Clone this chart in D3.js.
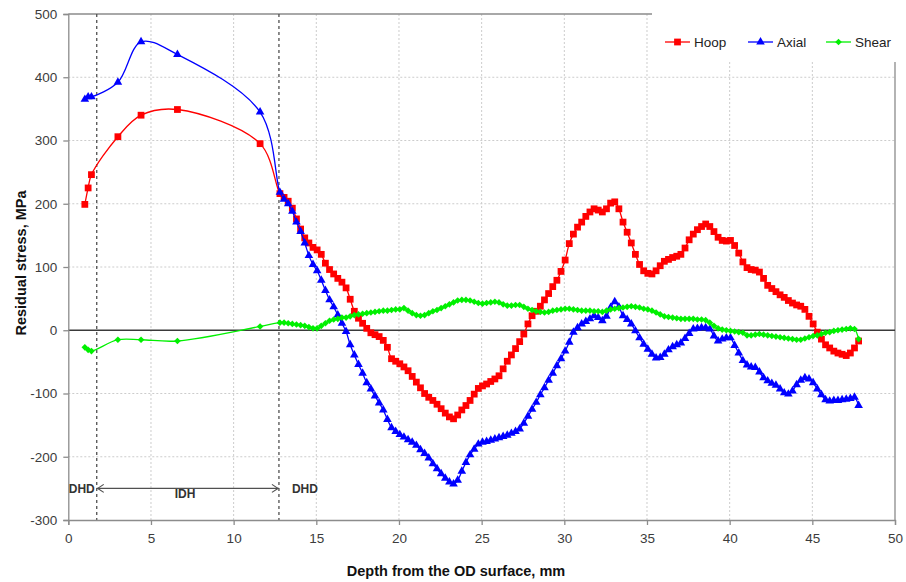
<!DOCTYPE html>
<html>
<head>
<meta charset="utf-8">
<script src="https://cdn.jsdelivr.net/npm/d3@7"></script>
<style>
  body { margin: 0; background: #fff; }
  text { font-family: Arial, "Liberation Sans", sans-serif; }
</style>
</head>
<body>
<svg width="906" height="582"></svg>
<script>
const width = 906;
const height = 582;

// near-surface points (smoothed part)
const nearDepth = [1.0, 1.2, 1.4, 3.0, 4.4, 6.6, 11.6];
const hoopNear = [199, 225, 246, 306, 340, 349, 295];
const axialNear = [365, 369, 369, 392, 456, 436, 345];
const shearNear = [-27, -31, -33, -15, -15, -17, 6];

// deep-hole scan points
const scanDepth = [
  12.8, 13.05, 13.3, 13.55, 13.8, 14.05, 14.3, 14.55, 14.8, 15.05,
  15.3, 15.55, 15.8, 16.05, 16.3, 16.55, 16.8, 17.05, 17.3, 17.55,
  17.8, 18.05, 18.3, 18.55, 18.8, 19.05, 19.3, 19.55, 19.8, 20.05,
  20.3, 20.55, 20.8, 21.05, 21.3, 21.55, 21.8, 22.05, 22.3, 22.55,
  22.8, 23.05, 23.3, 23.55, 23.8, 24.05, 24.3, 24.55, 24.8, 25.05,
  25.3, 25.55, 25.8, 26.05, 26.3, 26.55, 26.8, 27.05, 27.3, 27.55,
  27.8, 28.05, 28.3, 28.55, 28.8, 29.05, 29.3, 29.55, 29.8, 30.05,
  30.3, 30.55, 30.8, 31.05, 31.3, 31.55, 31.8, 32.05, 32.3, 32.55,
  32.8, 33.05, 33.3, 33.55, 33.8, 34.05, 34.3, 34.55, 34.8, 35.05,
  35.3, 35.55, 35.8, 36.05, 36.3, 36.55, 36.8, 37.05, 37.3, 37.55,
  37.8, 38.05, 38.3, 38.55, 38.8, 39.05, 39.3, 39.55, 39.8, 40.05,
  40.3, 40.55, 40.8, 41.05, 41.3, 41.55, 41.8, 42.05, 42.3, 42.55,
  42.8, 43.05, 43.3, 43.55, 43.8, 44.05, 44.3, 44.55, 44.8, 45.05,
  45.3, 45.55, 45.8, 46.05, 46.3, 46.55, 46.8, 47.05, 47.3, 47.55,
  47.8
];
const hoopScan = [
  216, 210, 204, 193, 176, 160, 146, 138, 131, 127,
  120, 106, 96, 89, 82, 76, 67, 49, 30, 19,
  11, 3, -4, -7, -10, -16, -27, -45, -49, -53,
  -58, -64, -73, -82, -91, -100, -106, -111, -117, -124,
  -131, -137, -140, -134, -126, -119, -111, -101, -92, -88,
  -85, -81, -77, -72, -61, -49, -39, -29, -18, -6,
  10, 23, 30, 38, 48, 58, 69, 79, 93, 111,
  137, 152, 163, 171, 180, 187, 192, 190, 187, 192,
  201, 203, 192, 171, 155, 138, 120, 104, 94, 90,
  89, 94, 102, 109, 112, 115, 117, 120, 130, 143,
  152, 159, 164, 168, 164, 156, 147, 142, 141, 142,
  134, 122, 108, 99, 96, 95, 92, 82, 71, 66,
  61, 56, 52, 47, 43, 40, 38, 33, 22, 10,
  -3, -14, -23, -28, -33, -36, -38, -40, -36, -28,
  -17
];
const axialScan = [
  218, 207, 200, 188, 171, 156, 138, 118, 104, 94,
  79, 63, 48, 37, 24, 11, -2, -23, -39, -54,
  -68, -83, -93, -104, -115, -126, -141, -154, -160, -165,
  -169, -173, -177, -182, -189, -195, -202, -211, -219, -227,
  -234, -240, -243, -237, -223, -209, -197, -188, -180, -177,
  -176, -174, -172, -170, -168, -166, -163, -160, -156, -147,
  -136, -125, -114, -102, -91, -79, -68, -56, -45, -33,
  -19, -3, 4, 10, 14, 18, 23, 20, 15, 22,
  36, 45, 37, 23, 17, 10, -1, -12, -22, -30,
  -38, -44, -43, -38, -31, -26, -23, -20, -13, -5,
  2, 3, 4, 4, 2, -9, -17, -14, -12, -12,
  -24, -36, -48, -55, -58, -59, -66, -75, -80, -84,
  -87, -93, -99, -101, -96, -86, -79, -75, -77, -83,
  -93, -102, -110, -112, -111, -111, -110, -109, -108, -106,
  -119
];
const shearScan = [
  12, 12, 11, 10, 9, 8, 7, 5, 3, 3,
  7, 11, 15, 17, 18, 20, 20, 22, 24, 25,
  26, 27, 28, 29, 30, 31, 31, 32, 33, 33,
  35, 31, 27, 24, 23, 24, 27, 30, 32, 35,
  38, 41, 44, 47, 48, 48, 47, 45, 43, 42,
  43, 44, 45, 44, 41, 39, 39, 40, 40, 37,
  34, 32, 30, 29, 28, 29, 31, 32, 33, 34,
  34, 33, 32, 31, 31, 31, 30, 30, 29, 31,
  33, 34, 35, 36, 37, 38, 37, 36, 34, 33,
  31, 28, 25, 22, 21, 20, 19, 18, 18, 18,
  18, 17, 17, 16, 12, 7, 3, 1, 0, -1,
  -2, -3, -4, -8, -8, -7, -6, -7, -8, -9,
  -10, -11, -12, -13, -14, -15, -15, -13, -11, -9,
  -8, -6, -4, -3, -1, 0, 1, 2, 3, 2,
  -14
];

const xTicks = [0, 5, 10, 15, 20, 25, 30, 35, 40, 45, 50];
const yTicks = [-300, -200, -100, 0, 100, 200, 300, 400, 500];
const zoneBounds = [1.72, 12.74];

const seriesNames = ["Hoop", "Axial", "Shear"];
const seriesColors = ["#ff0000", "#0000ff", "#00f000"];

const x = d3.scaleLinear().domain([0, 50]).range([68.3, 895]);
const y = d3.scaleLinear().domain([-300, 500]).range([520, 14]);

const svg = d3.select("svg");

// grid
const grid = svg.append("g");
grid.selectAll("line.gx")
    .data(xTicks.slice(1, -1))
    .join("line")
    .attr("x1", d => x(d)).attr("x2", d => x(d))
    .attr("y1", y(500)).attr("y2", y(-300))
    .attr("stroke", "#cccccc").attr("stroke-dasharray", "2,2");
grid.selectAll("line.gy")
    .data(yTicks.filter(d => d !== 0 && d !== -300 && d !== 500))
    .join("line")
    .attr("x1", x(0)).attr("x2", x(50))
    .attr("y1", d => y(d)).attr("y2", d => y(d))
    .attr("stroke", "#cccccc").attr("stroke-dasharray", "2,2");

// plot border top / right / bottom
svg.append("path")
    .attr("d", `M${x(0)},${y(500)}H${x(50)}V${y(-300)}`)
    .attr("fill", "none").attr("stroke", "#8c8c8c").attr("stroke-width", 1.3);

// zero line
svg.append("line")
    .attr("x1", x(0)).attr("x2", x(50))
    .attr("y1", y(0)).attr("y2", y(0))
    .attr("stroke", "#3a3a3a").attr("stroke-width", 1.5);

// zone boundaries
svg.selectAll("line.zone")
    .data(zoneBounds)
    .join("line")
    .attr("x1", d => x(d)).attr("x2", d => x(d))
    .attr("y1", y(500)).attr("y2", y(-300))
    .attr("stroke", "#505050").attr("stroke-width", 1.3)
    .attr("stroke-dasharray", "3,3");

// axes
const xAxis = svg.append("g")
    .attr("transform", `translate(0,${y(-300)})`)
    .call(d3.axisBottom(x).tickValues(xTicks).tickFormat(d => String(d)).tickSize(5).tickPadding(8));
const yAxis = svg.append("g")
    .attr("transform", `translate(${x(0)},0)`)
    .call(d3.axisLeft(y).tickValues(yTicks).tickFormat(d => String(d)).tickSize(5).tickPadding(6));
[xAxis, yAxis].forEach(a => {
    a.select(".domain").attr("stroke", "#8c8c8c").attr("stroke-width", 1.3);
    a.selectAll(".tick line").attr("stroke", "#8c8c8c").attr("stroke-width", 1.3);
    a.selectAll(".tick text")
        .attr("font-size", 13.5).attr("fill", "#3c3c3c")
        .attr("font-family", "Arial, 'Liberation Sans', sans-serif");
});

// series
const series = [
    nearDepth.map((d, i) => ({ x: d, y: hoopNear[i] }))
        .concat(scanDepth.map((d, i) => ({ x: d, y: hoopScan[i] }))),
    nearDepth.map((d, i) => ({ x: d, y: axialNear[i] }))
        .concat(scanDepth.map((d, i) => ({ x: d, y: axialScan[i] }))),
    nearDepth.map((d, i) => ({ x: d, y: shearNear[i] }))
        .concat(scanDepth.map((d, i) => ({ x: d, y: shearScan[i] })))
];

const line = d3.line()
    .x(d => x(d.x))
    .y(d => y(d.y))
    .curve(d3.curveCatmullRom.alpha(0.5));

const symbols = [
    d3.symbol().type(d3.symbolSquare).size(46)(),
    d3.symbol().type(d3.symbolTriangle).size(32)(),
    d3.symbol().type(d3.symbolSquare).size(22)()
];
const rotate = [0, 0, 45];

series.forEach((pts, k) => {
    const g = svg.append("g");
    g.append("path")
        .attr("d", line(pts))
        .attr("fill", "none")
        .attr("stroke", seriesColors[k])
        .attr("stroke-width", 1.3);
    g.selectAll("path.m")
        .data(pts)
        .join("path")
        .attr("d", symbols[k])
        .attr("transform", d => `translate(${x(d.x)},${y(d.y)}) rotate(${rotate[k]})`)
        .attr("fill", seriesColors[k]);
});

// zone annotation
const ay = y(-250);
const ax0 = x(zoneBounds[0]);
const ax1 = x(zoneBounds[1]);
const ann = svg.append("g").attr("stroke", "#505050").attr("stroke-width", 1.2).attr("fill", "none");
ann.append("line").attr("x1", ax0).attr("x2", ax1).attr("y1", ay).attr("y2", ay);
ann.append("path").attr("d", `M${ax0 + 7},${ay - 4}L${ax0 + 1},${ay}L${ax0 + 7},${ay + 4}`);
ann.append("path").attr("d", `M${ax1 - 7},${ay - 4}L${ax1 - 1},${ay}L${ax1 - 7},${ay + 4}`);

const lab = svg.append("g")
    .attr("font-size", 12).attr("font-weight", "bold").attr("fill", "#333");
lab.append("text").attr("x", ax0 - 2).attr("y", ay + 5).attr("text-anchor", "end").text("DHD");
lab.append("text").attr("x", 185).attr("y", ay + 10).attr("text-anchor", "middle").text("IDH");
lab.append("text").attr("x", ax1 + 13).attr("y", ay + 5).text("DHD");

// axis titles
svg.append("text")
    .attr("x", 456).attr("y", 576)
    .attr("text-anchor", "middle")
    .attr("font-size", 14.5).attr("font-weight", "bold").attr("fill", "#111")
    .text("Depth from the OD surface, mm");
svg.append("text")
    .attr("transform", `translate(26,${(y(500) + y(-300)) / 2 - 4}) rotate(-90)`)
    .attr("text-anchor", "middle")
    .attr("font-size", 14.5).attr("font-weight", "bold").attr("fill", "#111")
    .text("Residual stress, MPa");

// legend
const legend = svg.append("g");
legend.append("rect")
    .attr("x", 652).attr("y", 0).attr("width", width - 652).attr("height", 62)
    .attr("fill", "#fff");
const legX = [665, 748, 826];
seriesNames.forEach((name, k) => {
    const lg = legend.append("g").attr("transform", `translate(${legX[k]},42)`);
    lg.append("line").attr("x1", 0).attr("x2", 25)
        .attr("stroke", seriesColors[k]).attr("stroke-width", 1.3);
    lg.append("path").attr("d", symbols[k])
        .attr("transform", `translate(12.5,0) rotate(${rotate[k]})`)
        .attr("fill", seriesColors[k]);
    lg.append("text").attr("x", 29).attr("y", 5)
        .attr("font-size", 13.5).attr("fill", "#222").text(name);
});
</script>
</body>
</html>
